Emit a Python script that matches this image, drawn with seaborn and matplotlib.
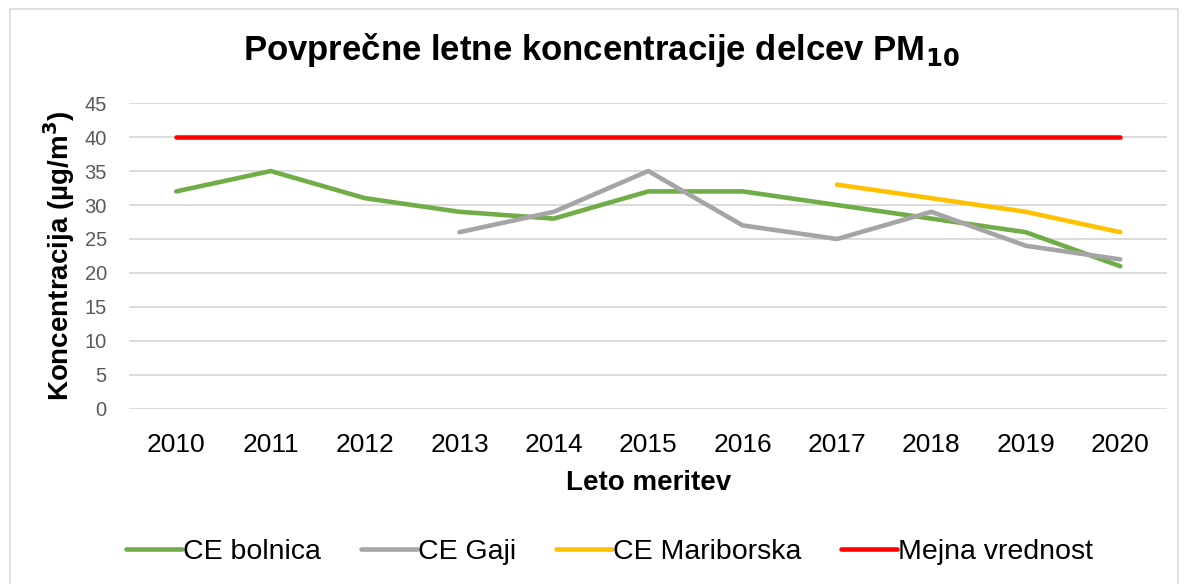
import pandas as pd
import matplotlib.pyplot as plt
import seaborn as sns
from matplotlib.patches import Rectangle

# ======= data =======
years = [2010, 2011, 2012, 2013, 2014, 2015, 2016, 2017, 2018, 2019, 2020]
bolnica = [32, 35, 31, 29, 28, 32, 32, 30, 28, 26, 21]
gaji = [None, None, None, 26, 29, 35, 27, 25, 29, 24, 22]
mariborska = [None, None, None, None, None, None, None, 33, 31, 29, 26]
mejna = [40] * 11

series = ['CE bolnica', 'CE Gaji', 'CE Mariborska', 'Mejna vrednost']
colors = ['#70ad47', '#a5a5a5', '#ffc000', '#ff0000']

frames = []
for name, vals in zip(series, [bolnica, gaji, mariborska, mejna]):
    frames.append(pd.DataFrame({'idx': range(len(years)), 'val': vals, 'serija': name}))
df = pd.concat(frames).dropna()

# ======= style =======
sns.set_theme(style="white")
plt.rcParams['font.family'] = ['Liberation Sans', 'DejaVu Sans']
plt.rcParams['text.color'] = 'black'
plt.rcParams['axes.labelcolor'] = 'black'

fig = plt.figure(figsize=(11.84, 5.84), dpi=100)
ax = fig.add_axes([0.109, 0.2997, 0.877, 0.5239])

sns.lineplot(data=df, x='idx', y='val', hue='serija', hue_order=series,
             palette=colors, linewidth=3.3, ax=ax, legend=False,
             solid_capstyle='round', zorder=3)

ax.set_xlim(-0.5, len(years) - 0.5)
ax.set_ylim(0, 45)
ax.set_yticks(range(0, 50, 5))
ax.set_xticks(range(len(years)))
ax.set_xticklabels([str(y) for y in years])
ax.grid(axis='y', color='#d9d9d9', linewidth=1.3, zorder=0)
for s in ax.spines.values():
    s.set_visible(False)
ax.tick_params(axis='y', labelsize=14.5, labelcolor='#595959', length=0, pad=16)
ax.tick_params(axis='x', labelsize=19, labelcolor='#000000', length=0, pad=17)

ax.set_xlabel('Leto meritev', fontsize=20, fontweight='bold', labelpad=10)
ax.set_ylabel('Koncentracija (µg/m$^\\mathbf{3}$)', fontsize=20, fontweight='bold')
ax.yaxis.set_label_coords(-0.05, 0.5)
fig.text(0.508, 0.914, 'Povprečne letne koncentracije delcev PM$_{\\mathbf{10}}$',
         ha='center', va='center', fontsize=25, fontweight='bold')

handles = [plt.Line2D([], [], color=c, linewidth=3.3) for c in colors]
fig.legend(handles, series, loc='center', bbox_to_anchor=(0.515, 0.055), ncol=4,
           frameon=False, fontsize=20.5, handlelength=1.95, handletextpad=0.05,
           columnspacing=1.4)

fig.patches.append(Rectangle((0.0085, -0.02), 0.9865, 1.0046, transform=fig.transFigure,
                             fill=False, edgecolor='#d9d9d9', linewidth=1.2))

fig.savefig('out.png', dpi=100, facecolor='white')
